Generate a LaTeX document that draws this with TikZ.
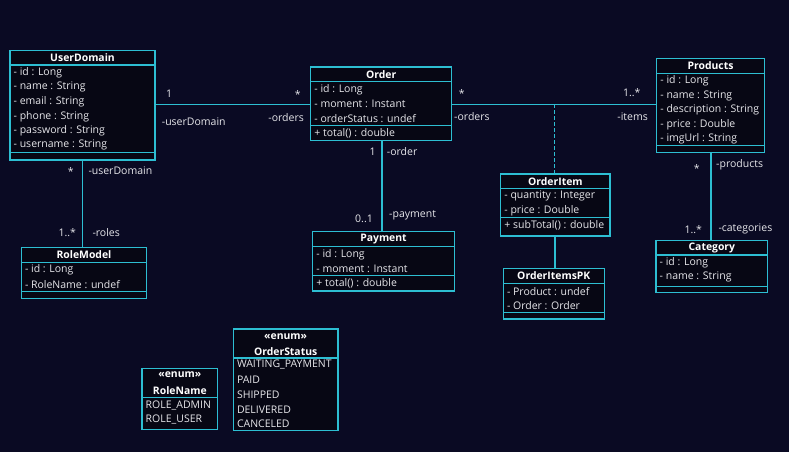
\documentclass[tikz,border=0pt]{standalone}
\usepackage{fontspec}
\setmainfont{Open Sans}[BoldFont={Open Sans Bold}]
\definecolor{bgcol}{RGB}{10,10,35}
\definecolor{boxfill}{RGB}{7,7,20}
\definecolor{edge}{RGB}{45,190,210}
\definecolor{txt}{RGB}{230,230,234}

% class box: outer frame, header rule, title and attribute rows
\newcommand{\umlclass}[8]{%
  \node[classbox, minimum width={(#4-#2)*1pt}, minimum height={(#5-#3)*1pt}] (#1) at (#2,#3) {};
  \draw[classline] (#2,#6) -- (#4,#6);
  \node[titletext] at ({(#2+#4)/2},{(#3+#6)/2}) {#7};
  \foreach \txt [count=\i] in {#8}
    \node[rowtext] at ({#2+3.5},{#6+7.8+14.5*(\i-1)}) {\txt};
}
% operations compartment: rule and optional rows
\newcommand{\umlops}[4]{%
  \draw[classline] (#1,#3) -- (#2,#3);
  \node[rowtext] at ({#1+3.5},{#3+8}) {#4};
}

\begin{document}
\begin{tikzpicture}[x=1pt,y=-1pt,
  classbox/.style={draw=edge, fill=boxfill, line width=1.1pt, inner sep=0pt, outer sep=0pt, anchor=north west},
  classline/.style={draw=edge, line width=1.1pt},
  titletext/.style={text=white, font=\fontsize{10.4}{12}\selectfont\bfseries, inner sep=0pt},
  rowtext/.style={text=txt, font=\fontsize{10.5}{12}\selectfont, anchor=west, inner sep=0pt},
  assoc/.style={draw=edge, line width=1.1pt},
  lbl/.style={text=txt, font=\fontsize{10.5}{12}\selectfont, inner sep=0pt}]

\fill[bgcol] (0,0) rectangle (789,452);
\useasboundingbox (0,0) rectangle (789,452);

% ---- helper coordinates for connector routes ----
\coordinate (udorderY) at (0,104.3);
\coordinate (ordprodY) at (0,104.3);
\coordinate (joint) at (554.5,104.3);
\coordinate (udrmX) at (82.7,0);
\coordinate (ordpayX) at (382,0);
\coordinate (prodcatX) at (711,0);
\coordinate (oipkX) at (555,0);

% ---- classes ----
\umlclass{ud}{10}{50.3}{155}{160}{65}{UserDomain}{- id : Long,- name : String,- email : String,- phone : String,- password : String,- username : String}
\umlops{10}{155}{152.7}{}

\umlclass{ord}{310.7}{67}{451.7}{140.3}{81.7}{Order}{- id : Long,- moment : Instant,- orderStatus : undef}
\umlops{310.7}{451.7}{125.3}{+ total() : double}

\umlclass{pay}{312.7}{231.7}{454.3}{291}{246.7}{Payment}{- id : Long,- moment : Instant}
\umlops{312.7}{454.3}{275.7}{+ total() : double}

\umlclass{prod}{656.7}{58.3}{764.3}{152.7}{73.3}{Products}{- id : Long,- name : String,- description : String,- price : Double,- imgUrl : String}
\umlops{656.7}{764.3}{145.7}{}

\umlclass{oi}{500.7}{174}{610}{236}{188.3}{OrderItem}{- quantity : Integer,- price : Double}
\umlops{500.7}{610}{217.3}{+ subTotal() : double}

\umlclass{pk}{503.3}{268.3}{604.3}{319}{283.3}{OrderItemsPK}{- Product : undef,- Order : Order}
\umlops{503.3}{604.3}{312.3}{}

\umlclass{cat}{656}{240.7}{767.7}{292.3}{255}{Category}{- id : Long,- name : String}
\umlops{656}{767.7}{286.7}{}

\umlclass{rm}{21.3}{247.7}{146.7}{298.3}{262.3}{RoleModel}{- id : Long,- RoleName : undef}
\umlops{21.3}{146.7}{291.7}{}

% enumerations
\node[classbox, minimum width={75.7pt}, minimum height={61pt}] (rn) at (142,368.3) {};
\draw[classline] (142,397.3) -- (217.7,397.3);
\node[titletext] at (179.85,374.3) {«enum»};
\node[titletext] at (179.85,390.3) {RoleName};
\node[rowtext] at (145.5,405.3) {ROLE\_ADMIN};
\node[rowtext] at (145.5,419.3) {ROLE\_USER};

\node[classbox, minimum width={104.7pt}, minimum height={101.7pt}] (os) at (233.3,329) {};
\draw[classline] (233.3,358) -- (338,358);
\node[titletext] at (285.65,336.7) {«enum»};
\node[titletext] at (285.65,351.7) {OrderStatus};
\foreach \txt [count=\i] in {WAITING\_PAYMENT,PAID,SHIPPED,DELIVERED,CANCELED}
  \node[rowtext] at (236.8,{365+14.8*(\i-1)}) {\txt};

% ---- associations ----
\draw[assoc] (ud.east |- udorderY) -- (ord.west |- udorderY);
\draw[assoc] (ord.east |- ordprodY) -- (prod.west |- ordprodY);
\draw[assoc, dashed, dash pattern=on 4pt off 2pt] (joint) -- (oi.north -| joint);
\draw[assoc] (oi.south -| oipkX) -- (pk.north -| oipkX);
\draw[assoc] (ord.south -| ordpayX) -- (pay.north -| ordpayX);
\draw[assoc] (ud.south -| udrmX) -- (rm.north -| udrmX);
\draw[assoc] (prod.south -| prodcatX) -- (cat.north -| prodcatX);

% ---- multiplicities and role names ----
\node[lbl] (m1) at (169,93.5) {1};
\node[lbl] (m2) at (297.7,94.5) {*};
\node[lbl, anchor=west] (r1) at (161.7,121.7) {-userDomain};
\node[lbl, anchor=east] (r2) at (304,117.3) {-orders};

\node[lbl] (m3) at (461.7,93.5) {*};
\node[lbl, anchor=west] (r3) at (454,116.3) {-orders};
\node[lbl] (m4) at (631.7,92.8) {1..*};
\node[lbl, anchor=east] (r4) at (648,116.3) {-items};

\node[lbl] (m5) at (372.7,151.7) {1};
\node[lbl, anchor=west] (r5) at (386.7,151.7) {-order};
\node[lbl] (m6) at (364,218.3) {0..1};
\node[lbl, anchor=west] (r6) at (389,215.7) {-payment};

\node[lbl] (m7) at (70.7,172) {*};
\node[lbl, anchor=west] (r7) at (88.3,170.3) {-userDomain};
\node[lbl] (m8) at (67.3,232.3) {1..*};
\node[lbl, anchor=west] (r8) at (92.3,232.3) {-roles};

\node[lbl] (m9) at (696.7,168.5) {*};
\node[lbl, anchor=west] (r9) at (716,164.3) {-products};
\node[lbl] (m10) at (693.3,229.3) {1..*};
\node[lbl, anchor=west] (r10) at (718.3,229.3) {-categories};

\end{tikzpicture}
\end{document}
